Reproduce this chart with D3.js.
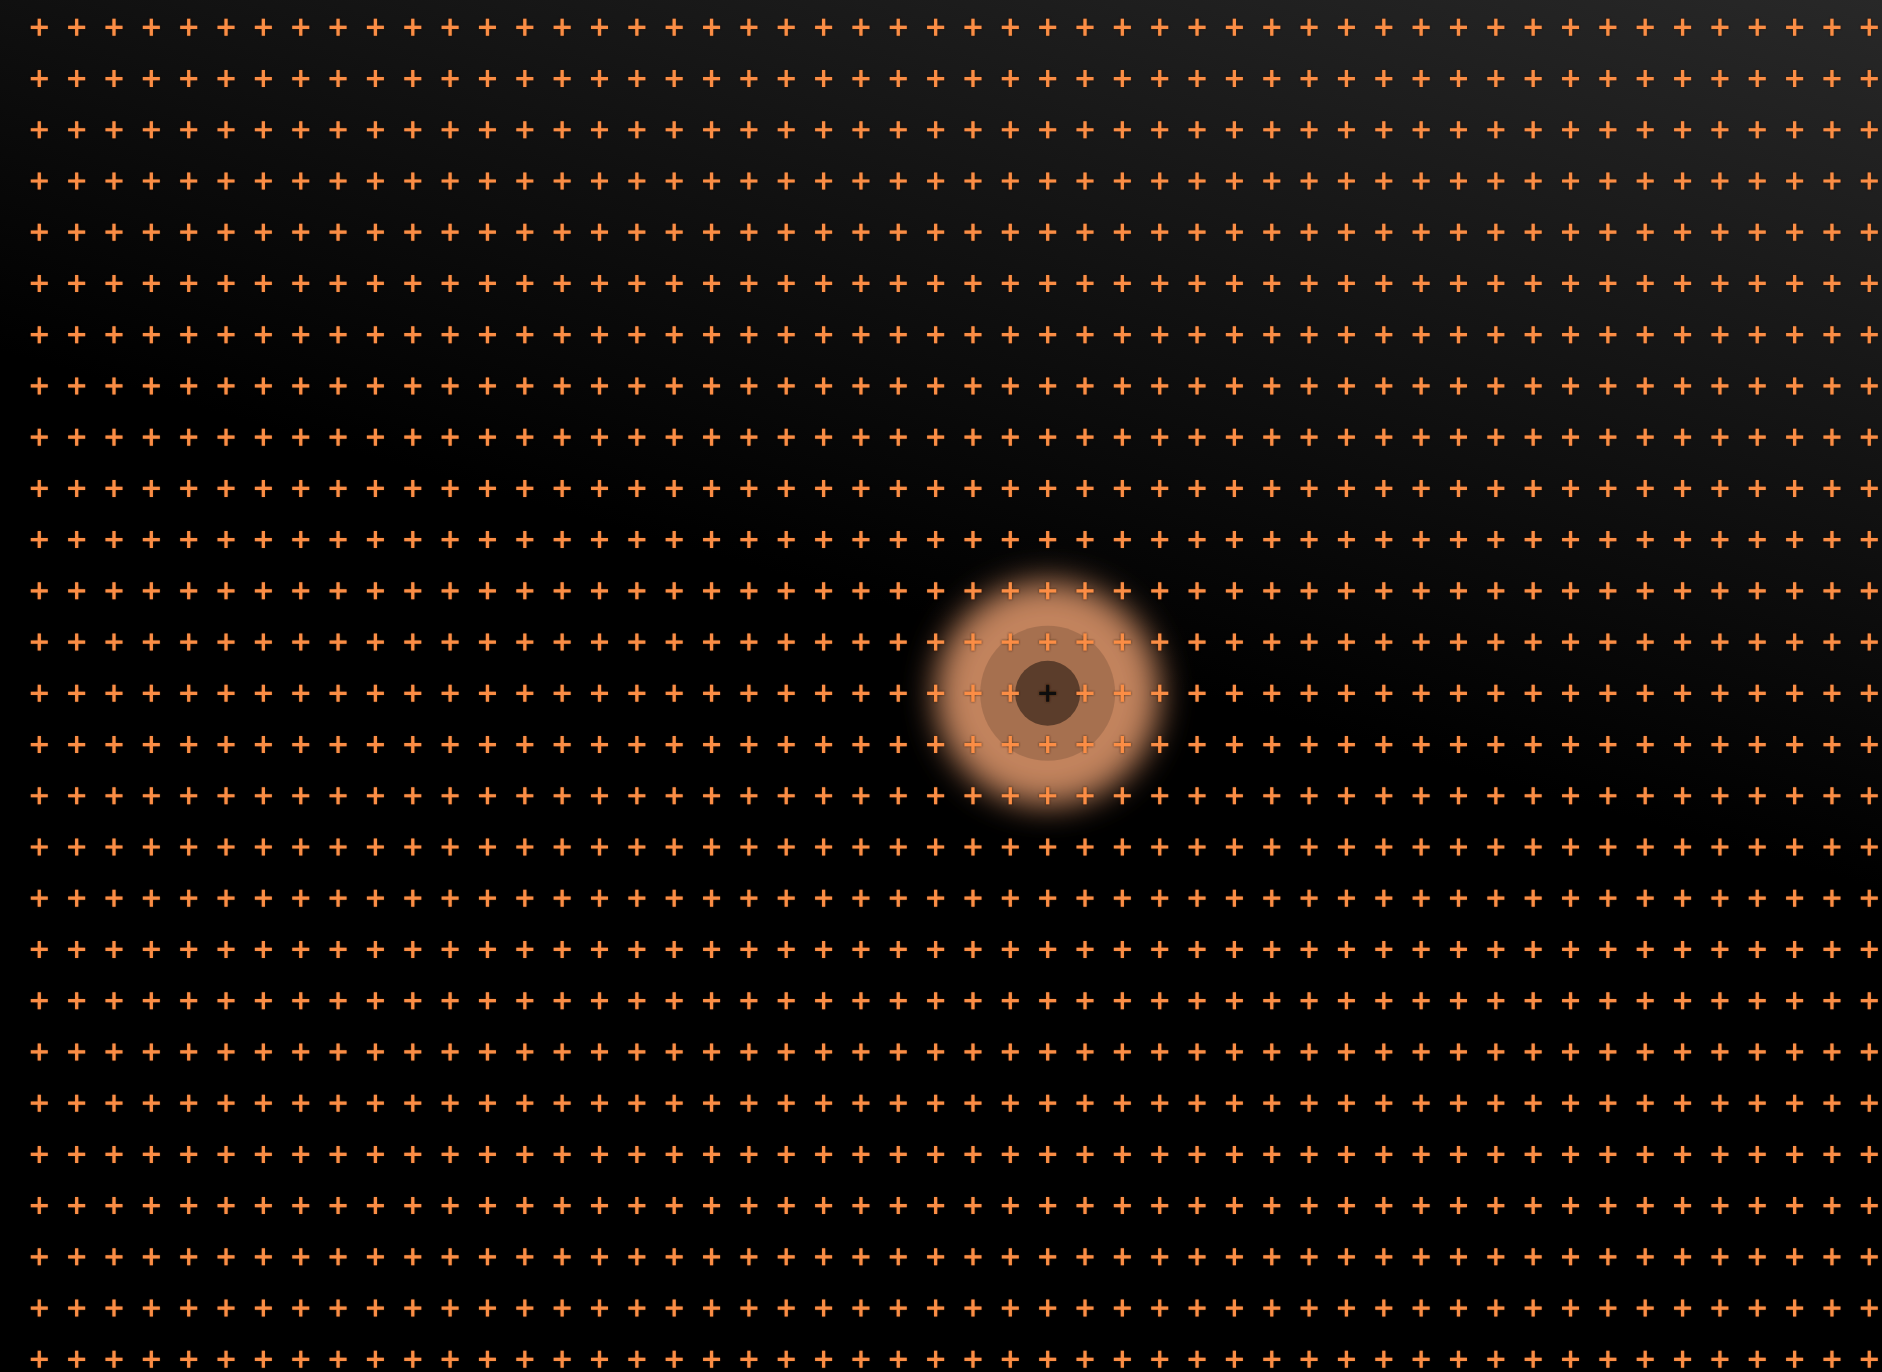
<!DOCTYPE html>
<html>
<head>
<meta charset="utf-8">
<script src="https://cdn.jsdelivr.net/npm/d3@7"></script>
<style>
  html, body { margin: 0; padding: 0; background: #000; overflow: hidden; }
</style>
</head>
<body>
<div id="chart"></div>
<script>
// grid of crosses, one cell picked out
var columns = d3.range(50);   // column index of each cross
var rows = d3.range(27);      // row index of each cross
var selected = {col: 27, row: 13};

var width = 1882, height = 1372;

var x = d3.scaleLinear().domain([0, columns.length - 1]).range([39.3, 1869.3]);
var y = d3.scaleLinear().domain([0, rows.length - 1]).range([27.3, 1359.3]);

var svg = d3.select("#chart").append("svg")
    .attr("width", width)
    .attr("height", height);

var defs = svg.append("defs");

// background: dark, a bit lighter toward the top right
var bg = defs.append("linearGradient")
    .attr("id", "bg")
    .attr("gradientUnits", "userSpaceOnUse")
    .attr("x1", -93).attr("y1", 325)
    .attr("x2", 143).attr("y2", -499);
bg.append("stop").attr("offset", 0).attr("stop-color", "#000");
bg.append("stop").attr("offset", 1).attr("stop-color", "#282828");

var blur = defs.append("filter").attr("id", "glow")
    .attr("x", "-60%").attr("y", "-60%").attr("width", "220%").attr("height", "220%");
blur.append("feGaussianBlur").attr("stdDeviation", 16);

var soft = defs.append("filter").attr("id", "soft")
    .attr("x", "-30%").attr("y", "-30%").attr("width", "160%").attr("height", "160%");
soft.append("feDropShadow").attr("dx", 0).attr("dy", 0)
    .attr("stdDeviation", 0.8).attr("flood-color", "#3a1a05").attr("flood-opacity", 0.9);

svg.append("rect")
    .attr("width", width).attr("height", height)
    .attr("fill", "url(#bg)");

// highlight behind the chosen cell
var hl = svg.append("g")
    .attr("transform", "translate(" + x(selected.col) + "," + y(selected.row) + ")");
hl.append("circle").attr("r", 112).attr("fill", "#c2835d").attr("filter", "url(#glow)");
hl.append("circle").attr("r", 67.5).attr("fill", "#000").attr("opacity", 0.14);
hl.append("circle").attr("r", 32.5).attr("fill", "#000").attr("opacity", 0.45);

var cells = [];
rows.forEach(function(r) {
  columns.forEach(function(c) { cells.push({col: c, row: r}); });
});

var half = 8.5;
function cross() {
  return "M" + (-half) + ",0H" + half + "M0," + (-half) + "V" + half;
}

svg.append("g").attr("filter", "url(#soft)")
  .selectAll("path")
  .data(cells)
  .enter().append("path")
    .attr("transform", function(d) { return "translate(" + x(d.col) + "," + y(d.row) + ")"; })
    .attr("d", cross)
    .attr("fill", "none")
    .attr("stroke", function(d) {
      return (d.col == selected.col && d.row == selected.row) ? "#111" : "#fb8d44";
    })
    .attr("stroke-width", 3.2);
</script>
</body>
</html>
